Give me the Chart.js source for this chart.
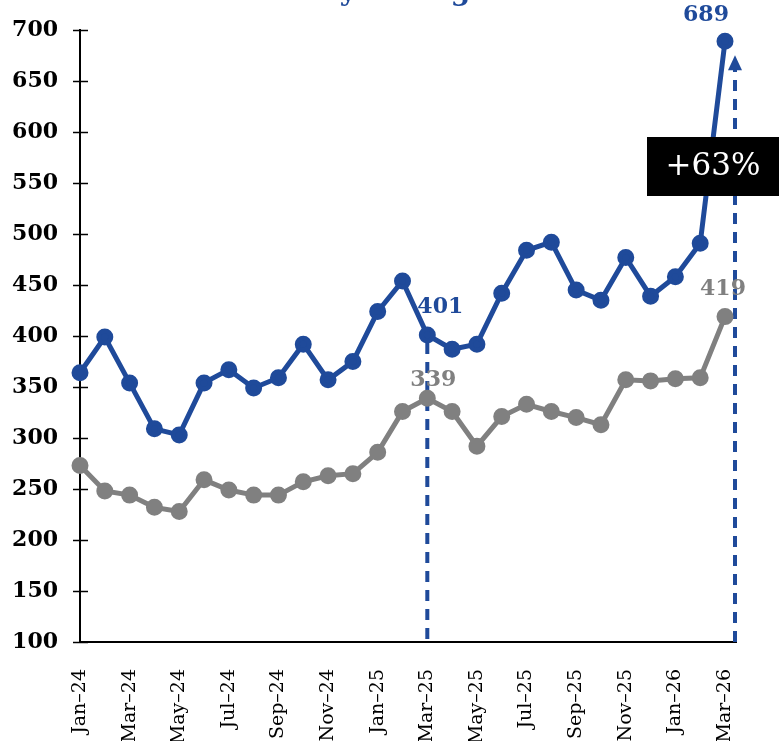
<!DOCTYPE html>
<html>
<head>
<meta charset="utf-8">
<script src="https://cdn.jsdelivr.net/npm/chart.js@4.4.1/dist/chart.umd.min.js"></script>
<style>
  html, body { margin: 0; padding: 0; background: #fff; }
  #wrap { width: 779px; height: 741px; position: relative; }
</style>
</head>
<body>
<div id="wrap"><canvas id="chart"></canvas></div>
<script>
// months, Jan-24 .. Mar-26
var months = [
  'Jan–24','Feb–24','Mar–24','Apr–24','May–24','Jun–24','Jul–24','Aug–24','Sep–24','Oct–24','Nov–24','Dec–24',
  'Jan–25','Feb–25','Mar–25','Apr–25','May–25','Jun–25','Jul–25','Aug–25','Sep–25','Oct–25','Nov–25','Dec–25',
  'Jan–26','Feb–26','Mar–26'
];

var blueValues = [364, 399, 354, 309, 303, 354, 367, 349, 359, 392, 357, 375,
                  424, 454, 401, 387, 392, 442, 484, 492, 445, 435, 477, 439,
                  458, 491, 689];
var greyValues = [273, 248, 244, 232, 228, 259, 249, 244, 244, 257, 263, 265,
                  286, 326, 339, 326, 292, 321, 333, 326, 320, 313, 357, 356,
                  358, 359, 419];

var yTicks = [100, 150, 200, 250, 300, 350, 400, 450, 500, 550, 600, 650, 700];

var titleText = 'Monthly average';
var changeText = '+63%';

var BLUE = '#1F4A9A';
var GREY = '#808080';

var serif = '"DejaVu Serif", "Liberation Serif", serif';

// which points get a value label
var pointLabels = [
  { ds: 0, i: 26, dx: -19, dy: -20, color: BLUE },
  { ds: 0, i: 14, dx: 13, dy: -22, color: BLUE },
  { ds: 1, i: 14, dx: 6, dy: -12, color: GREY },
  { ds: 1, i: 26, dx: -2, dy: -22, color: GREY }
];

var extras = {
  id: 'extras',
  beforeDatasetsDraw: function(chart) {
    var ctx = chart.ctx;
    var x = chart.scales.x, y = chart.scales.y;
    var bottom = chart.chartArea.bottom;
    ctx.save();
    // x axis extension
    ctx.strokeStyle = '#000';
    ctx.lineWidth = 2;
    ctx.beginPath();
    ctx.moveTo(chart.chartArea.right, bottom);
    ctx.lineTo(chart.chartArea.right + 12, bottom);
    ctx.stroke();
    // y axis cross ticks
    ctx.lineWidth = 1.5;
    yTicks.forEach(function(v) {
      var py = Math.round(y.getPixelForValue(v)) + 0.5;
      ctx.beginPath();
      ctx.moveTo(chart.chartArea.left - 7, py);
      ctx.lineTo(chart.chartArea.left + 8, py);
      ctx.stroke();
    });
    // dashed marker at Mar-25
    ctx.strokeStyle = BLUE;
    ctx.lineWidth = 4;
    ctx.setLineDash([11, 8]);
    var mx = x.getPixelForValue(14);
    ctx.beginPath();
    ctx.moveTo(mx, y.getPixelForValue(blueValues[14]) + 8);
    ctx.lineTo(mx, bottom);
    ctx.stroke();
    // dashed arrow at Mar-26
    var ax = x.getPixelForValue(26) + 10;
    var top = y.getPixelForValue(blueValues[26]) + 28;
    ctx.beginPath();
    ctx.moveTo(ax, bottom);
    ctx.lineTo(ax, top);
    ctx.stroke();
    ctx.setLineDash([]);
    ctx.fillStyle = BLUE;
    ctx.beginPath();
    ctx.moveTo(ax, top - 14);
    ctx.lineTo(ax - 7, top + 1);
    ctx.lineTo(ax + 7, top + 1);
    ctx.closePath();
    ctx.fill();
    ctx.restore();
  },
  afterDatasetsDraw: function(chart) {
    var ctx = chart.ctx;
    ctx.save();
    // title, mostly cut off at the top
    ctx.fillStyle = BLUE;
    ctx.font = 'bold 28px ' + serif;
    ctx.textAlign = 'center';
    ctx.textBaseline = 'alphabetic';
    ctx.fillText(titleText, 357, 0);
    // value labels
    ctx.font = 'bold 22px ' + serif;
    pointLabels.forEach(function(l) {
      var pt = chart.getDatasetMeta(l.ds).data[l.i];
      var val = chart.data.datasets[l.ds].data[l.i];
      ctx.fillStyle = l.color;
      ctx.fillText(String(val), pt.x + l.dx, pt.y + l.dy);
    });
    // change box
    ctx.fillStyle = '#000';
    ctx.fillRect(647, 137, 132, 59);
    ctx.fillStyle = '#fff';
    ctx.font = '31px ' + serif;
    ctx.textBaseline = 'middle';
    ctx.fillText(changeText, 713, 167);
    ctx.restore();
  }
};

new Chart(document.getElementById('chart'), {
  type: 'line',
  data: {
    labels: months,
    datasets: [{
      label: 'Blue',
      data: blueValues,
      borderColor: BLUE,
      backgroundColor: BLUE,
      borderWidth: 5,
      pointRadius: 6,
      pointHoverRadius: 6,
      tension: 0,
      fill: false
    }, {
      label: 'Grey',
      data: greyValues,
      borderColor: GREY,
      backgroundColor: GREY,
      borderWidth: 5,
      pointRadius: 6,
      pointHoverRadius: 6,
      tension: 0,
      fill: false
    }]
  },
  options: {
    responsive: true,
    maintainAspectRatio: false,
    animation: false,
    layout: { padding: { top: 30, right: 54, left: 0, bottom: 0 } },
    plugins: { legend: { display: false }, tooltip: { enabled: false } },
    scales: {
      x: {
        offset: false,
        grid: { display: false, drawTicks: false },
        border: { color: '#000', width: 2 },
        afterFit: function(s) { s.height = 99; },
        ticks: {
          autoSkip: false,
          maxRotation: 90,
          minRotation: 90,
          padding: 27,
          color: '#000',
          font: { family: serif, size: 19 },
          callback: function(v, i) { return i % 2 === 0 ? months[i] : ''; }
        }
      },
      y: {
        min: 100,
        max: 700,
        grid: { display: false, drawTicks: false },
        border: { color: '#000', width: 2 },
        afterFit: function(s) { s.width = 80; s.paddingTop = 0; s.paddingBottom = 0; },
        afterBuildTicks: function(s) { s.ticks = yTicks.map(function(v) { return { value: v }; }); },
        ticks: {
          padding: 22,
          color: '#000',
          font: { family: serif, size: 22, weight: 'bold', lineHeight: 1 }
        }
      }
    }
  },
  plugins: [extras]
});
</script>
</body>
</html>
